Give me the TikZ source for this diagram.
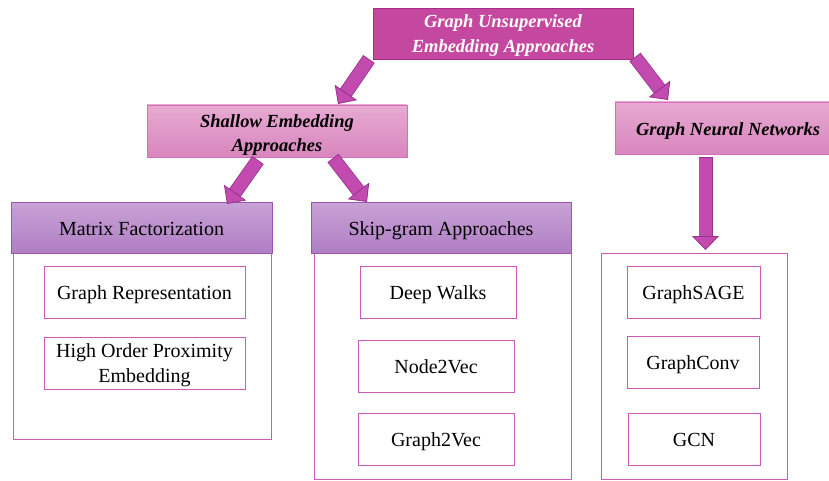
\documentclass[tikz,border=0pt]{standalone}
\usepackage{fontspec}
\setmainfont{Liberation Serif}
\usetikzlibrary{arrows.meta}

\definecolor{topfill}{RGB}{197,72,160}
\definecolor{topedge}{RGB}{165,45,135}
\definecolor{shallowtop}{RGB}{231,170,210}
\definecolor{shallowbot}{RGB}{216,134,190}
\definecolor{shallowedge}{RGB}{214,110,190}
\definecolor{headtop}{RGB}{200,162,213}
\definecolor{headbot}{RGB}{176,126,196}
\definecolor{headedge}{RGB}{155,85,180}
\definecolor{boxedge}{RGB}{205,90,185}
\definecolor{arrowfill}{RGB}{195,75,175}
\definecolor{arrowedge}{RGB}{150,50,140}

\tikzset{
  base/.style={rectangle, inner sep=0pt, align=center, line width=0.9pt,
    font=\fontsize{20}{25}\selectfont},
  oneline/.style={text height=20pt, text depth=4.5pt},
  rootbox/.style={base, fill=topfill, draw=topedge, text=white,
    font=\fontsize{18.5}{25}\selectfont\bfseries\itshape},
  midbox/.style={base, top color=shallowtop, bottom color=shallowbot, draw=shallowedge,
    font=\fontsize{18.5}{24}\selectfont\bfseries\itshape},
  headbox/.style={base, oneline, top color=headtop, bottom color=headbot, draw=headedge},
  framebox/.style={base, draw=boxedge, fill=white},
  itembox/.style={base, draw=boxedge, fill=white},
  shaftedge/.style={line width=14pt, draw=arrowedge, shorten >=13pt},
  shaftfill/.style={line width=12.4pt, draw=arrowfill, shorten <=0.8pt,
    -{Triangle[width=27pt,length=14pt,line width=0.8pt,fill=arrowfill,color=arrowedge]}}
}

\newcommand\fatarrow[2]{%
  \draw[shaftedge] (#1) -- (#2);
  \draw[shaftfill] (#1) -- (#2);
}

\begin{document}
\begin{tikzpicture}[x=1pt, y=-1pt]
\useasboundingbox (0,0) rectangle (829,481);
\clip (0,0) rectangle (829,481);
\fill[white] (0,0) rectangle (829,481);

% upper levels
\node[rootbox, text height=42pt, minimum width=260pt, minimum height=51pt] (root) at (503,33.5)
  {Graph Unsupervised\\Embedding Approaches};
\node[midbox, text height=45pt, minimum width=260pt, minimum height=52pt] (shallow) at (277,131)
  {Shallow Embedding\\Approaches};
\node[midbox, text height=19pt, text depth=4.5pt, minimum width=226pt, minimum height=52pt] (gnn) at (728,128)
  {Graph Neural Networks};

% frames of the three columns
\node[framebox, minimum width=258pt, minimum height=186pt] (mfo) at (142,346) {};
\node[framebox, minimum width=257pt, minimum height=226.5pt] (sgo) at (442.5,366.25) {};
\node[framebox, minimum width=186pt, minimum height=226.5pt] (gnno) at (694,366.25) {};

% column headers
\node[headbox, minimum width=261pt, minimum height=51pt] (mfh) at (141.5,227.5)
  {Matrix Factorization};
\node[headbox, minimum width=260pt, minimum height=51pt] (sgh) at (441,227.5)
  {Skip-gram Approaches};

% matrix factorization methods
\node[itembox, oneline, minimum width=201pt, minimum height=52pt] (gr) at (144.5,292)
  {Graph Representation};
\node[itembox, text height=44pt, minimum width=201pt, minimum height=52pt] (hop) at (144.5,363)
  {High Order Proximity\\Embedding};

% skip-gram methods
\node[itembox, oneline, minimum width=156pt, minimum height=52pt] (dw) at (438,292) {Deep Walks};
\node[itembox, oneline, minimum width=156pt, minimum height=52pt] (n2v) at (436,366) {Node2Vec};
\node[itembox, oneline, minimum width=156pt, minimum height=52pt] (g2v) at (436,439) {Graph2Vec};

% graph neural network methods
\node[itembox, oneline, minimum width=133pt, minimum height=52pt] (sage) at (693.5,292) {GraphSAGE};
\node[itembox, oneline, minimum width=132pt, minimum height=52pt] (conv) at (693,362) {GraphConv};
\node[itembox, oneline, minimum width=132pt, minimum height=52pt] (gcn) at (694,439) {GCN};

% arrow end points
\coordinate (a1s) at (369,59);   \coordinate (a1t) at (338,104);
\coordinate (a2s) at (635,57);   \coordinate (a2t) at (668,100);
\coordinate (a3s) at (258,160);  \coordinate (a3t) at (227,204);
\coordinate (a4s) at (333,158);  \coordinate (a4t) at (367,202);
\coordinate (a5s) at (705.5,157); \coordinate (a5t) at (705.5,250);

\fatarrow{a1s}{a1t}
\fatarrow{a2s}{a2t}
\fatarrow{a3s}{a3t}
\fatarrow{a4s}{a4t}
\fatarrow{a5s}{a5t}
\end{tikzpicture}
\end{document}
